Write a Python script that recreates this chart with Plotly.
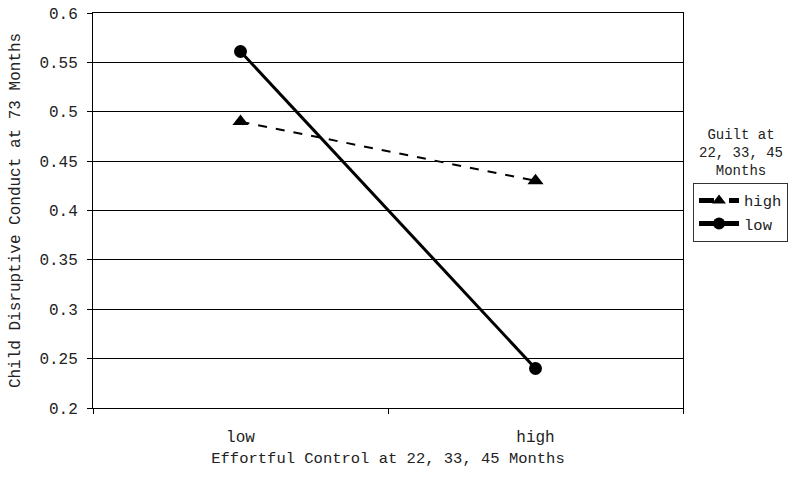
import plotly.graph_objects as go

categories = ["low", "high"]
guilt_high = [0.49, 0.43]
guilt_low = [0.561, 0.24]
y_ticks = [0.2, 0.25, 0.3, 0.35, 0.4, 0.45, 0.5, 0.55, 0.6]
y_tick_labels = ["0.2", "0.25", "0.3", "0.35", "0.4", "0.45", "0.5", "0.55", "0.6"]

FONT = "Courier New, Liberation Mono, monospace"
INK = "#222222"

fig = go.Figure()
fig.add_trace(go.Scatter(
    x=categories, y=guilt_high, name="high", mode="lines+markers",
    line=dict(color="black", width=2, dash="dash"),
    marker=dict(symbol="triangle-up", size=14, color="black"),
))
fig.add_trace(go.Scatter(
    x=categories, y=guilt_low, name="low", mode="lines+markers",
    line=dict(color="black", width=3),
    marker=dict(symbol="circle", size=13, color="black"),
))

fig.update_layout(
    width=800, height=477,
    margin=dict(l=93, r=117, t=13, b=69, autoexpand=False),
    paper_bgcolor="white", plot_bgcolor="white",
    font=dict(family=FONT, size=15, color=INK),
    showlegend=True,
    legend=dict(
        x=1.017, y=0.57, xanchor="left", yanchor="top",
        bordercolor="#333333", borderwidth=1, bgcolor="white",
        font=dict(family=FONT, size=15.5, color=INK),
        tracegroupgap=0, itemwidth=40, itemsizing="constant",
    ),
    annotations=[dict(
        text="Guilt at<br>22, 33, 45<br>Months", xref="paper", yref="paper",
        x=1.098, y=0.646, xanchor="center", yanchor="middle", showarrow=False,
        font=dict(family=FONT, size=14, color=INK), align="center",
    )],
)

fig.update_xaxes(
    type="category", range=[-0.5, 1.5], tickson="boundaries",
    ticks="outside", ticklen=5, tickcolor="black", automargin=False,
    showline=True, linecolor="black", linewidth=1, mirror=True,
    showgrid=False, ticklabelstandoff=14,
    tickfont=dict(family=FONT, size=16, color=INK),
    title=dict(text="Effortful Control at 22, 33, 45 Months", standoff=5,
               font=dict(family=FONT, size=15.5, color=INK)),
)
fig.update_yaxes(
    range=[0.2, 0.6], tickvals=y_ticks, ticktext=y_tick_labels,
    ticks="outside", ticklen=5, tickcolor="black", automargin=False,
    ticklabeloverflow="allow",
    showline=True, linecolor="black", linewidth=1, mirror=True,
    showgrid=True, gridcolor="black", gridwidth=1, zeroline=False,
    ticklabelstandoff=6,
    tickfont=dict(family=FONT, size=16, color=INK),
    title=dict(text="Child Disruptive Conduct at 73 Months", standoff=14,
               font=dict(family=FONT, size=16, color=INK)),
)

fig.write_html(
    "out.html",
    config={"displayModeBar": False},
    post_script="document.body.style.margin='0';document.body.style.overflow='hidden';",
)
